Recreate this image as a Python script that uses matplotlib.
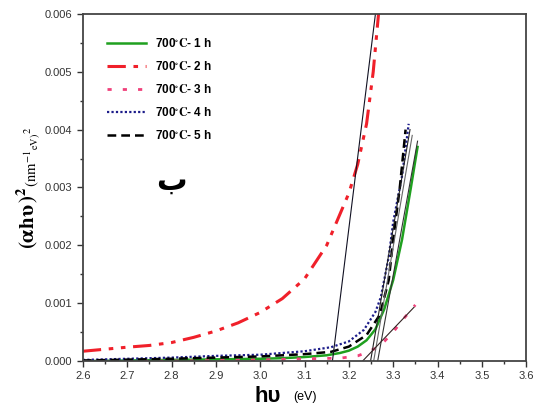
import numpy as np
import matplotlib
matplotlib.use("Agg")
import matplotlib.pyplot as plt
from matplotlib.ticker import MultipleLocator, FormatStrFormatter

plt.rcParams['mathtext.fontset'] = 'stix'
plt.rcParams['font.family'] = ['Liberation Sans', 'DejaVu Sans']

x1 = [2.6, 2.7, 2.8, 2.9, 3.0, 3.05, 3.1, 3.15, 3.18, 3.2, 3.22, 3.24, 3.26, 3.28, 3.30, 3.32, 3.34, 3.355]
y1 = [0.0, 0.00001, 0.00002, 0.00003, 0.00004, 0.00005, 0.00007, 0.0001, 0.00014, 0.00018, 0.00025,
      0.00036, 0.00055, 0.0009, 0.0014, 0.0021, 0.0030, 0.0037]

x2 = [2.6, 2.7, 2.75, 2.8, 2.85, 2.9, 2.95, 3.0, 3.05, 3.1, 3.15, 3.2, 3.22, 3.24, 3.255, 3.267]
y2 = [0.00017, 0.00024, 0.00027, 0.00032, 0.00041, 0.00052, 0.00066, 0.00084, 0.00108, 0.00142,
      0.0020, 0.0029, 0.0034, 0.0041, 0.0050, 0.0060]

x3 = [2.6, 2.8, 2.9, 3.0, 3.1, 3.18, 3.22, 3.24, 3.26, 3.28, 3.30, 3.32, 3.35]
y3 = [0.0, 0.0, 0.00001, 0.00002, 0.00004, 0.00005, 0.00009, 0.00015, 0.00022, 0.00034, 0.0005, 0.0007, 0.00097]

x4 = [2.6, 2.7, 2.8, 2.9, 3.0, 3.1, 3.16, 3.2, 3.234, 3.26, 3.272, 3.29, 3.30, 3.32, 3.335]
y4 = [0.00002, 0.00004, 0.00006, 0.00009, 0.00011, 0.00017, 0.00024, 0.00034, 0.00054, 0.00085,
      0.0011, 0.0018, 0.0024, 0.0032, 0.0041]

x5 = [2.6, 2.8, 3.0, 3.1, 3.16, 3.2, 3.24, 3.27, 3.29, 3.30, 3.315, 3.328]
y5 = [0.00001, 0.00004, 0.00008, 0.00012, 0.00016, 0.00025, 0.00045, 0.0008, 0.0014, 0.0021, 0.0030, 0.0040]

# straight-line fits drawn on the figure (end points)
fit_red_x, fit_red_y = [3.163, 3.26], [0.0, 0.006]
fit_a_x, fit_a_y = [3.249, 3.338], [0.0, 0.0040]
fit_b_x, fit_b_y = [3.256, 3.343], [0.0, 0.0039]
fit_c_x, fit_c_y = [3.265, 3.355], [0.0, 0.0038]
fit_pink_x, fit_pink_y = [3.231, 3.347], [0.0, 0.00093]

labels = ["700$^{\\circ}\\mathbf{C}$- 1 h", "700$^{\\circ}\\mathbf{C}$- 2 h", "700$^{\\circ}\\mathbf{C}$- 3 h",
          "700$^{\\circ}\\mathbf{C}$- 4 h", "700$^{\\circ}\\mathbf{C}$- 5 h"]

fig = plt.figure(figsize=(5.38, 4.08), dpi=100)
ax = fig.add_axes([0.154, 0.115, 0.824, 0.851])

ax.plot(x1, y1, color='#1fa01f', lw=1.8, label=labels[0])
ax.plot(x2, y2, color='#f0202a', lw=2.2, ls=(0, (6, 2.5, 1.5, 2.5, 1.5, 2.5)), label=labels[1])
ax.plot(x3, y3, color='#f0407a', lw=2.0, ls=(0, (1.5, 4)), label=labels[2])
ax.plot(x4, y4, color='#1c1c8a', lw=1.6, ls=(0, (1, 1)), label=labels[3])
ax.plot(x5, y5, color='black', lw=1.8, ls=(0, (3.5, 2)), label=labels[4])

ax.plot(fit_red_x, fit_red_y, color='#111122', lw=0.8)
ax.plot(fit_a_x, fit_a_y, color='#222222', lw=0.8)
ax.plot(fit_b_x, fit_b_y, color='#666666', lw=0.8)
ax.plot(fit_c_x, fit_c_y, color='#333333', lw=0.8)
ax.plot(fit_pink_x, fit_pink_y, color='#332222', lw=0.8)

ax.text(2.80, 0.0031, "\u0628", fontsize=22, fontweight='bold', ha='center', va='center',
        family=['DejaVu Sans'])

ax.set_xlim(2.6, 3.6)
ax.set_ylim(0, 0.006)
ax.xaxis.set_major_locator(MultipleLocator(0.1))
ax.xaxis.set_minor_locator(MultipleLocator(0.05))
ax.yaxis.set_major_locator(MultipleLocator(0.001))
ax.yaxis.set_minor_locator(MultipleLocator(0.0005))
ax.xaxis.set_major_formatter(FormatStrFormatter('%.1f'))
ax.yaxis.set_major_formatter(FormatStrFormatter('%.3f'))
ax.tick_params(which='both', direction='out', labelsize=8, colors='#333333', top=False, right=False)
ax.tick_params(which='major', length=4, width=1)
ax.tick_params(which='minor', length=2.5, width=1)
for s in ax.spines.values():
    s.set_color('#444444')
    s.set_linewidth(1.3)

ax.set_xlabel("h\u03c5", fontsize=16, fontweight='bold')
ax.xaxis.set_label_coords(0.418, -0.072, transform=ax.transAxes)
ax.xaxis.label.set_va('top')
ax.text(0.475, -0.113, "(eV)", fontsize=9, ha='left', va='baseline', transform=ax.transAxes)
ax.set_ylabel(r"$\mathbf{(\alpha h\upsilon\,)^{2}}_{(\mathrm{nm}^{-1}{}_{\mathrm{eV)}}{}^{2}}$",
              fontsize=15, labelpad=1)

leg = ax.legend(loc='upper left', bbox_to_anchor=(0.03, 0.965), frameon=False, handlelength=3.3,
                labelspacing=0.85, prop={'size': 8.5, 'weight': 'bold'})

fig.savefig('out.png', dpi=100)
